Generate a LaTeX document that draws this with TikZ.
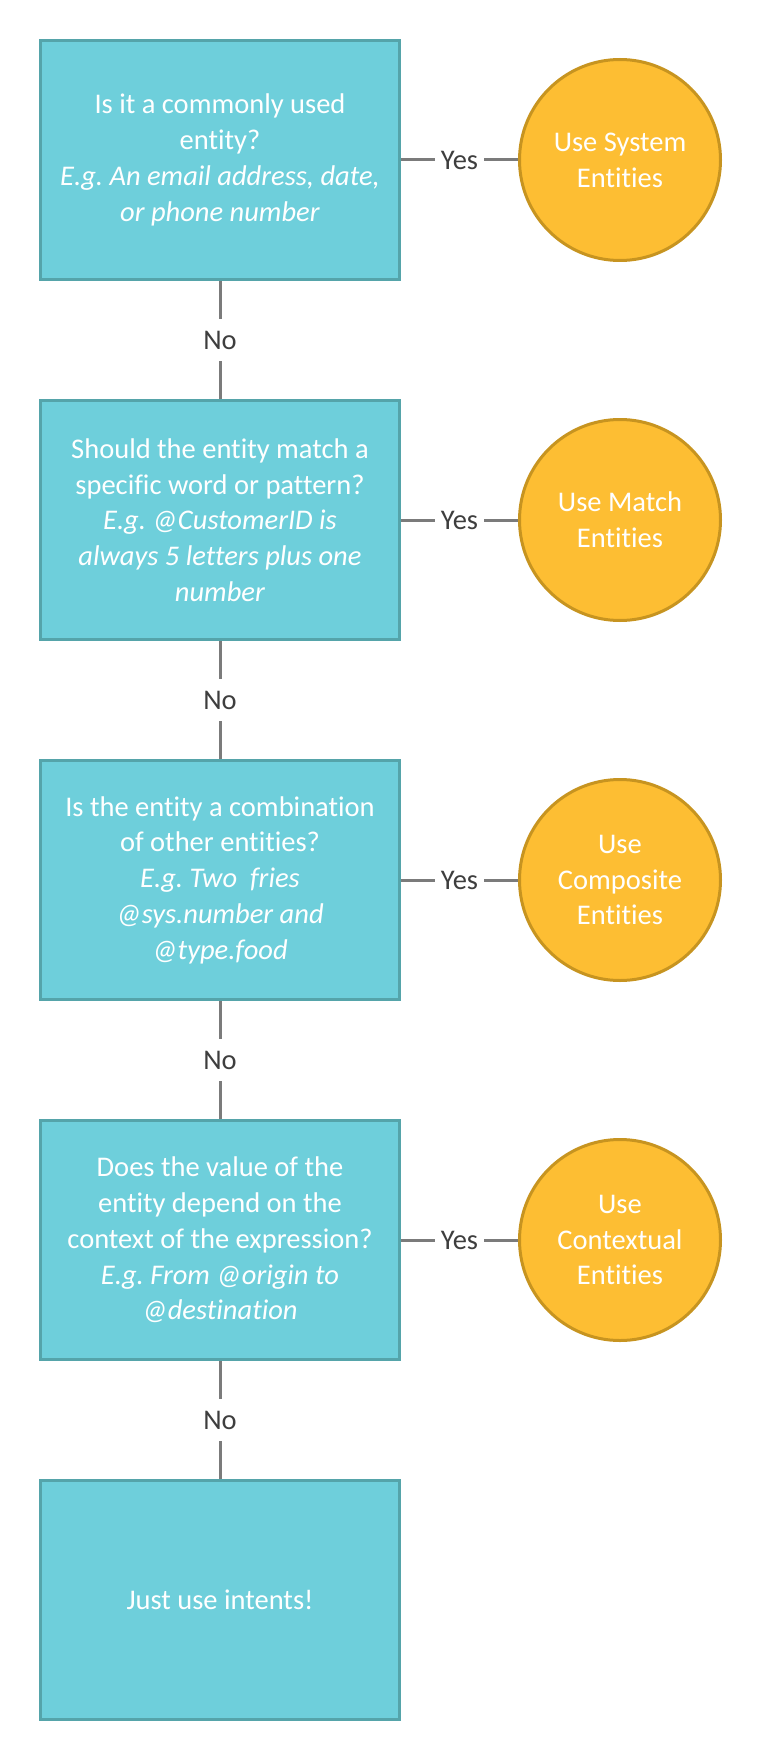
\documentclass[tikz,border=0pt]{standalone}
\usepackage{fontspec}
\setmainfont{Carlito}[Ligatures=NoCommon]
\usetikzlibrary{positioning}
\definecolor{boxfill}{HTML}{6ECFDB}
\definecolor{boxline}{HTML}{55A4AA}
\definecolor{circfill}{HTML}{FDBE33}
\definecolor{circline}{HTML}{C79420}
\definecolor{connline}{HTML}{7B7B7B}
\definecolor{labeltext}{HTML}{3E3E3E}
\frenchspacing
\tikzset{
  question/.style={draw=boxline, fill=boxfill, line width=3pt, minimum width=359pt, minimum height=239pt, align=center, text=white, inner sep=0pt},
  answer/.style={draw=circline, fill=circfill, circle, line width=3pt, minimum size=201pt, align=center, text=white, inner sep=0pt}
}
\begin{document}
\begin{tikzpicture}[x=1pt, y=-1pt, node distance=360pt, font=\fontsize{28.5}{35.75}\selectfont]
\useasboundingbox (0,0) rectangle (760,1760);
\node[question] (q1) at (220,160) {Is it a commonly used\\ entity?\\ \textit{E.g. An email address, date,}\\ \textit{or phone number}};
\node[question, below of = q1] (q2) {Should the entity match a\\ specific word or pattern?\\ \textit{E.g. @CustomerID is}\\ \textit{always 5 letters plus one}\\ \textit{number}};
\node[question, below of = q2] (q3) {Is the entity a combination\\ of other entities?\\ \textit{E.g. Two\ \ fries}\\ \textit{@sys.number and}\\ \textit{@type.food}};
\node[question, below of = q3] (q4) {Does the value of the\\ entity depend on the\\ context of the expression?\\ \textit{E.g. From @origin to}\\ \textit{@destination}};
\node[question, below of = q4] (q5) {Just use intents!};

\node[answer, right of = q1, node distance=400pt] (a1) {Use System\\ Entities};
\node[answer, right of = q2, node distance=400pt] (a2) {Use Match\\ Entities};
\node[answer, right of = q3, node distance=400pt] (a3) {Use\\ Composite\\ Entities};
\node[answer, right of = q4, node distance=400pt] (a4) {Use\\ Contextual\\ Entities};

\path[draw=connline, line width=3pt, every node/.style={fill=white, text=labeltext, inner xsep=6pt, inner ysep=12pt}]
  (q1) edge node {Yes} (a1)
  (q1) edge node {No} (q2)

  (q2) edge node {Yes} (a2)
  (q2) edge node {No} (q3)

  (q3) edge node {Yes} (a3)
  (q3) edge node {No} (q4)

  (q4) edge node {Yes} (a4)
  (q4) edge node {No} (q5)
;
\end{tikzpicture}
\end{document}
